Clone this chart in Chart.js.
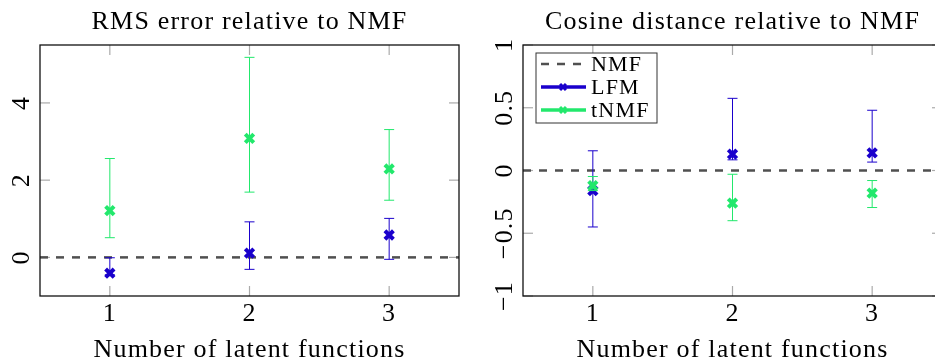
<!DOCTYPE html>
<html>
<head>
<meta charset="utf-8">
<script src="https://cdn.jsdelivr.net/npm/chart.js@4.4.1/dist/chart.umd.min.js"></script>
<style>
  html, body { margin: 0; padding: 0; background: #fff; overflow: hidden; }
  #wrap { position: relative; width: 935px; height: 362px; overflow: hidden; }
  canvas { position: absolute; top: 0; }
</style>
</head>
<body>
<div id="wrap">
  <canvas id="rmsChart" width="467" height="362" style="left:0;"></canvas>
  <canvas id="cosChart" width="476" height="362" style="left:467px;"></canvas>
</div>
<script>
// number of latent functions on the x axis
const latentFunctions = [1, 2, 3];
const xTicks = [1, 2, 3];

// NMF baseline (dashed line at zero)
const nmfX = [0.5, 3.5];
const nmfY = [0, 0];

// RMS error relative to NMF
const rmsLfm = [-0.41, 0.11, 0.58];
const rmsLfmLow = [-0.45, -0.31, -0.05];
const rmsLfmHigh = [-0.01, 0.92, 1.01];
const rmsTnmf = [1.21, 3.08, 2.29];
const rmsTnmfLow = [0.51, 1.69, 1.48];
const rmsTnmfHigh = [2.56, 5.18, 3.31];
const rmsTicks = [0, 2, 4];

// Cosine distance relative to NMF
const cosLfm = [-0.16, 0.13, 0.14];
const cosLfmLow = [-0.45, 0.085, 0.067];
const cosLfmHigh = [0.157, 0.575, 0.48];
const cosTnmf = [-0.12, -0.26, -0.18];
const cosTnmfLow = [-0.16, -0.40, -0.295];
const cosTnmfHigh = [-0.048, -0.03, -0.08];
const cosTicks = [-1, -0.5, 0, 0.5, 1];

const serif = "'Liberation Serif', 'Times New Roman', serif";
const blue = '#1a00cc';
const green = '#22e86c';
const grey = '#505050';
const spacing = '1.2px'; // the original font runs a bit wider

Chart.defaults.font.family = serif;
Chart.defaults.color = '#000';

function points(xs, ys) {
    return xs.map((x, i) => ({ x: x, y: ys[i] }));
}

function fmt(v) {
    return v < 0 ? '\u2212' + Math.abs(v) : String(v);
}

function line(ctx, x1, y1, x2, y2) {
    ctx.beginPath();
    ctx.moveTo(x1, y1);
    ctx.lineTo(x2, y2);
    ctx.stroke();
}

function cross(ctx, cx, cy, r) {
    line(ctx, cx - r, cy - r, cx + r, cy + r);
    line(ctx, cx - r, cy + r, cx + r, cy - r);
}

const panelPlugin = {
    id: 'panel',
    beforeUpdate(chart) {
        chart.ctx.letterSpacing = spacing;
    },
    beforeDraw(chart) {
        chart.ctx.letterSpacing = spacing;
    },
    // inner tick marks, pgfplots style
    beforeDatasetsDraw(chart) {
        const { ctx, chartArea: a, scales: { x, y } } = chart;
        ctx.save();
        ctx.strokeStyle = '#aaaaaa';
        ctx.lineWidth = 1.2;
        x.ticks.forEach(t => {
            const px = x.getPixelForValue(t.value);
            line(ctx, px, a.top, px, a.top + 10);
            line(ctx, px, a.bottom, px, a.bottom - 10);
        });
        y.ticks.forEach(t => {
            const py = y.getPixelForValue(t.value);
            line(ctx, a.left, py, a.left + 10, py);
            line(ctx, a.right, py, a.right - 10, py);
        });
        ctx.restore();
    },
    // error bars under each dataset's markers
    beforeDatasetDraw(chart, args) {
        const ds = chart.data.datasets[args.index];
        if (!ds.errLow) return;
        const { ctx, scales: { x, y } } = chart;
        ctx.save();
        ctx.strokeStyle = ds.borderColor;
        ctx.lineWidth = 1;
        ds.data.forEach((p, i) => {
            const px = x.getPixelForValue(p.x);
            const lo = y.getPixelForValue(ds.errLow[i]);
            const hi = y.getPixelForValue(ds.errHigh[i]);
            line(ctx, px, lo, px, hi);
            line(ctx, px - 5, lo, px + 5, lo);
            line(ctx, px - 5, hi, px + 5, hi);
        });
        ctx.restore();
    },
    afterDatasetsDraw(chart, args, opts) {
        const { ctx, chartArea: a, scales: { y } } = chart;
        ctx.save();
        // frame
        ctx.strokeStyle = '#111';
        ctx.lineWidth = 1.3;
        ctx.strokeRect(a.left, a.top, a.right - a.left, a.bottom - a.top);

        // rotated y tick labels
        ctx.fillStyle = '#000';
        ctx.font = '26px ' + serif;
        ctx.textAlign = 'center';
        ctx.textBaseline = 'middle';
        y.ticks.forEach(t => {
            ctx.save();
            ctx.translate(a.left - 18, y.getPixelForValue(t.value));
            ctx.rotate(-Math.PI / 2);
            ctx.fillText(fmt(t.value), 0, 0);
            ctx.restore();
        });

        // legend box
        if (opts.legend) {
            const bx = a.left + 13, by = a.top + 8, bw = 121, bh = 70;
            ctx.fillStyle = '#fff';
            ctx.fillRect(bx, by, bw, bh);
            ctx.strokeStyle = '#333';
            ctx.lineWidth = 1;
            ctx.strokeRect(bx, by, bw, bh);
            ctx.font = '22px ' + serif;
            ctx.textAlign = 'left';
            ctx.textBaseline = 'alphabetic';
            chart.data.datasets.forEach((ds, i) => {
                const cy = by + 11 + i * 23;
                ctx.strokeStyle = ds.borderColor;
                ctx.setLineDash(ds.borderDash || []);
                ctx.lineWidth = ds.borderDash ? 2.5 : 3.5;
                line(ctx, bx + 5, cy, bx + 50, cy);
                ctx.setLineDash([]);
                if (!ds.borderDash) {
                    ctx.lineWidth = 3;
                    cross(ctx, bx + 27, cy, 3);
                }
                ctx.fillStyle = '#000';
                ctx.fillText(ds.label, bx + 55, cy + 7);
            });
        }
        ctx.restore();
    }
};

function makeChart(id, title, lfm, lfmLow, lfmHigh, tnmf, tnmfLow, tnmfHigh, yMin, yMax, yTicks, yWidth, rightPad, showLegend) {
    const ctx = document.getElementById(id).getContext('2d');
    return new Chart(ctx, {
        type: 'scatter',
        data: {
            datasets: [
                {
                    label: 'NMF',
                    data: points(nmfX, nmfY),
                    showLine: true,
                    borderColor: grey,
                    borderWidth: 2.5,
                    borderDash: [8, 8],
                    pointRadius: 0,
                    order: 3
                },
                {
                    label: 'LFM',
                    data: points(latentFunctions, lfm),
                    errLow: lfmLow,
                    errHigh: lfmHigh,
                    borderColor: blue,
                    backgroundColor: blue,
                    pointStyle: 'crossRot',
                    pointRadius: 6,
                    pointBorderWidth: 4,
                    order: 2
                },
                {
                    label: 'tNMF',
                    data: points(latentFunctions, tnmf),
                    errLow: tnmfLow,
                    errHigh: tnmfHigh,
                    borderColor: green,
                    backgroundColor: green,
                    pointStyle: 'crossRot',
                    pointRadius: 6,
                    pointBorderWidth: 4,
                    order: 1
                }
            ]
        },
        options: {
            responsive: false,
            animation: false,
            layout: { autoPadding: false, padding: { left: 0, right: rightPad, top: 0, bottom: 0 } },
            plugins: {
                legend: { display: false },
                tooltip: { enabled: false },
                title: {
                    display: true,
                    text: title,
                    fullSize: false,
                    color: '#000',
                    font: { family: serif, size: 26, weight: 'normal', lineHeight: 1.2 },
                    padding: { top: 6.4, bottom: 7.4 }
                },
                panel: { legend: showLegend }
            },
            scales: {
                x: {
                    type: 'linear',
                    min: 0.5,
                    max: 3.5,
                    grid: { display: false, drawTicks: false },
                    border: { display: false },
                    afterBuildTicks: s => { s.ticks = xTicks.map(v => ({ value: v })); },
                    afterFit: s => { s.height = 66; },
                    ticks: { padding: 2.4, font: { size: 26 }, color: '#000', maxRotation: 0 },
                    title: {
                        display: true,
                        text: 'Number of latent functions',
                        color: '#000',
                        font: { family: serif, size: 26, lineHeight: 0.8 },
                        padding: { top: 0, bottom: 1.6 }
                    }
                },
                y: {
                    type: 'linear',
                    min: yMin,
                    max: yMax,
                    grid: { display: false, drawTicks: false },
                    border: { display: false },
                    afterBuildTicks: s => { s.ticks = yTicks.map(v => ({ value: v })); },
                    afterFit: s => { s.width = yWidth; },
                    ticks: { display: false }
                }
            }
        },
        plugins: [panelPlugin]
    });
}

makeChart('rmsChart', 'RMS error relative to NMF',
    rmsLfm, rmsLfmLow, rmsLfmHigh, rmsTnmf, rmsTnmfLow, rmsTnmfHigh,
    -1, 5.5, rmsTicks, 40, 8, false);

makeChart('cosChart', 'Cosine distance relative to NMF',
    cosLfm, cosLfmLow, cosLfmHigh, cosTnmf, cosTnmfLow, cosTnmfHigh,
    -1, 1, cosTicks, 56, 1, true);
</script>
</body>
</html>
